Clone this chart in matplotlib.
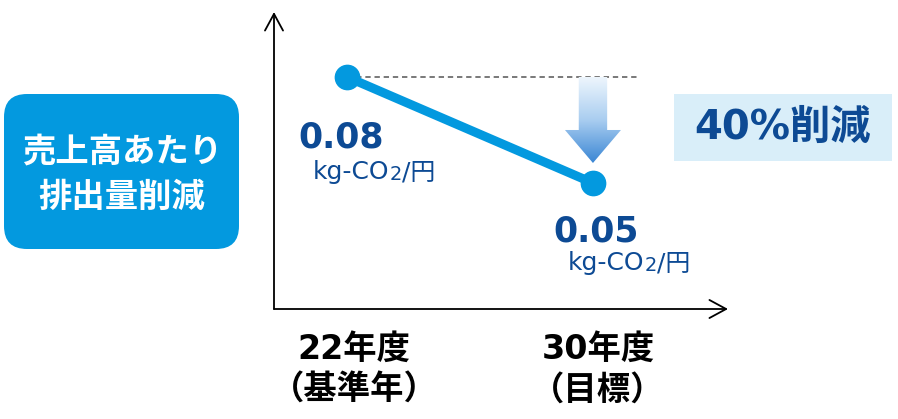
import matplotlib
matplotlib.use("Agg")
import matplotlib.pyplot as plt
import numpy as np
from matplotlib.patches import FancyBboxPatch, Rectangle, Polygon
from matplotlib.colors import LinearSegmentedColormap

plt.rcParams['font.family'] = ['Noto Sans CJK JP', 'DejaVu Sans']
WIDE = ['DejaVu Sans', 'Noto Sans CJK JP']   # wide latin glyphs, CJK fallback

# ---- data ----
years = ["22年度\n（基準年）", "30年度\n（目標）"]
intensity = [0.08, 0.05]          # kg-CO2 per yen of sales
unit_parts = ["kg-CO", "2", "/円"]
title_lines = ["売上高あたり", "排出量削減"]
reduction_label = "40%削減"

BLUE = "#0399df"
NAVY = "#0d4a94"
LIGHT = "#d9eef9"

fig = plt.figure(figsize=(8.98, 4.19), dpi=100)

# overlay in pixel units for the boxes and free text
deco = fig.add_axes([0, 0, 1, 1])
deco.set_xlim(0, 898)
deco.set_ylim(419, 0)
deco.axis('off')

# main chart area
XLIM = (-0.2967, 1.549)
YLIM = (0.01433, 0.0984)
ax = fig.add_axes([274 / 898, (419 - 309) / 419, (728 - 274) / 898, (309 - 12) / 419])
ax.patch.set_alpha(0)
ax.axis('off')

# axis arrows
arrow_kw = dict(arrowstyle='->,head_length=1.2,head_width=0.65', color='black',
                lw=1.3, shrinkA=0, shrinkB=0)
ax.annotate('', xy=(0, 1), xytext=(0, 0), xycoords='axes fraction',
            arrowprops=arrow_kw)
ax.annotate('', xy=(1, 0), xytext=(0, 0), xycoords='axes fraction',
            arrowprops=arrow_kw)

x = np.arange(len(intensity))

# dashed reference at the base year level
ax.plot([x[0], 1.19], [intensity[0], intensity[0]], ls=(0, (3.5, 2.5)),
        color='#555555', lw=1.1, zorder=2)

# gradient down-arrow between the two levels
px_x = 246.0   # pixels per x unit
px_y = 3533.0  # pixels per y unit
cx = x[1]
top = intensity[0]
tip = intensity[1] + 20 / px_y
head_base = tip + 33 / px_y
shaft_hw = 14.2 / px_x
head_hw = 28 / px_x
arrow_poly = Polygon([(cx - shaft_hw, top), (cx + shaft_hw, top),
                      (cx + shaft_hw, head_base), (cx + head_hw, head_base),
                      (cx, tip), (cx - head_hw, head_base),
                      (cx - shaft_hw, head_base)],
                     closed=True, facecolor='none', edgecolor='none')
ax.add_patch(arrow_poly)
grad_cmap = LinearSegmentedColormap.from_list('down', ['#eef6fd', '#a9cdf0', '#3a86d4'])
grad = np.linspace(0, 1, 256).reshape(-1, 1)
img = ax.imshow(grad, cmap=grad_cmap, aspect='auto', origin='upper',
                extent=[cx - head_hw, cx + head_hw, tip, top], zorder=3)
img.set_clip_path(arrow_poly)

# the line itself
ax.plot(x, intensity, color=BLUE, lw=6.5, marker='o', markersize=17.5,
        solid_capstyle='round', zorder=4)
ax.set_xlim(*XLIM)
ax.set_ylim(*YLIM)


def unit_text(ux, uy):
    # "kg-CO" + smaller "2" + "/円", chained left to right
    t1 = deco.text(ux, uy, unit_parts[0], color=NAVY, fontsize=18,
                   family=WIDE, ha='left', va='baseline')
    t2 = deco.annotate(unit_parts[1], xy=(1, 0), xycoords=t1, color=NAVY,
                       fontsize=14, family=WIDE, ha='left', va='bottom')
    deco.annotate(unit_parts[2], xy=(1, 0), xycoords=t2, color=NAVY,
                  fontsize=18, family=WIDE, ha='left', va='bottom')


# value labels
value_pos = [(298, 147), (553, 241)]
unit_pos = [(313, 179), (568, 270)]
for v, (vx, vy), (ux, uy) in zip(intensity, value_pos, unit_pos):
    deco.text(vx, vy, f"{v:.2f}", color=NAVY, fontsize=25, fontweight='bold',
              family=WIDE, ha='left', va='baseline')
    unit_text(ux, uy)

# category labels under the x axis
label_x = [354, 598]
for lx, lab in zip(label_x, years):
    top_line, bottom_line = lab.split("\n")
    deco.text(lx, 349, top_line, fontsize=24, fontweight='bold',
              family=WIDE, ha='center', va='center')
    deco.text(lx, 390, bottom_line, fontsize=24, fontweight='bold',
              ha='center', va='center')

# rounded title box on the left
deco.add_patch(FancyBboxPatch((4 + 23, 94 + 23), 235 - 46, 155 - 46,
                              boxstyle='round,pad=23,rounding_size=23',
                              facecolor=BLUE, edgecolor='none'))
deco.text(122, 152, title_lines[0], color='white', fontsize=24,
          fontweight='bold', ha='center', va='center')
deco.text(122, 197, title_lines[1], color='white', fontsize=24,
          fontweight='bold', ha='center', va='center')

# reduction callout
deco.add_patch(Rectangle((674, 94), 218, 67, facecolor=LIGHT, edgecolor='none'))
deco.text(783, 128, reduction_label, color=NAVY, fontsize=29,
          fontweight='bold', family=WIDE, ha='center', va='center')

fig.savefig("out.png", dpi=100)
